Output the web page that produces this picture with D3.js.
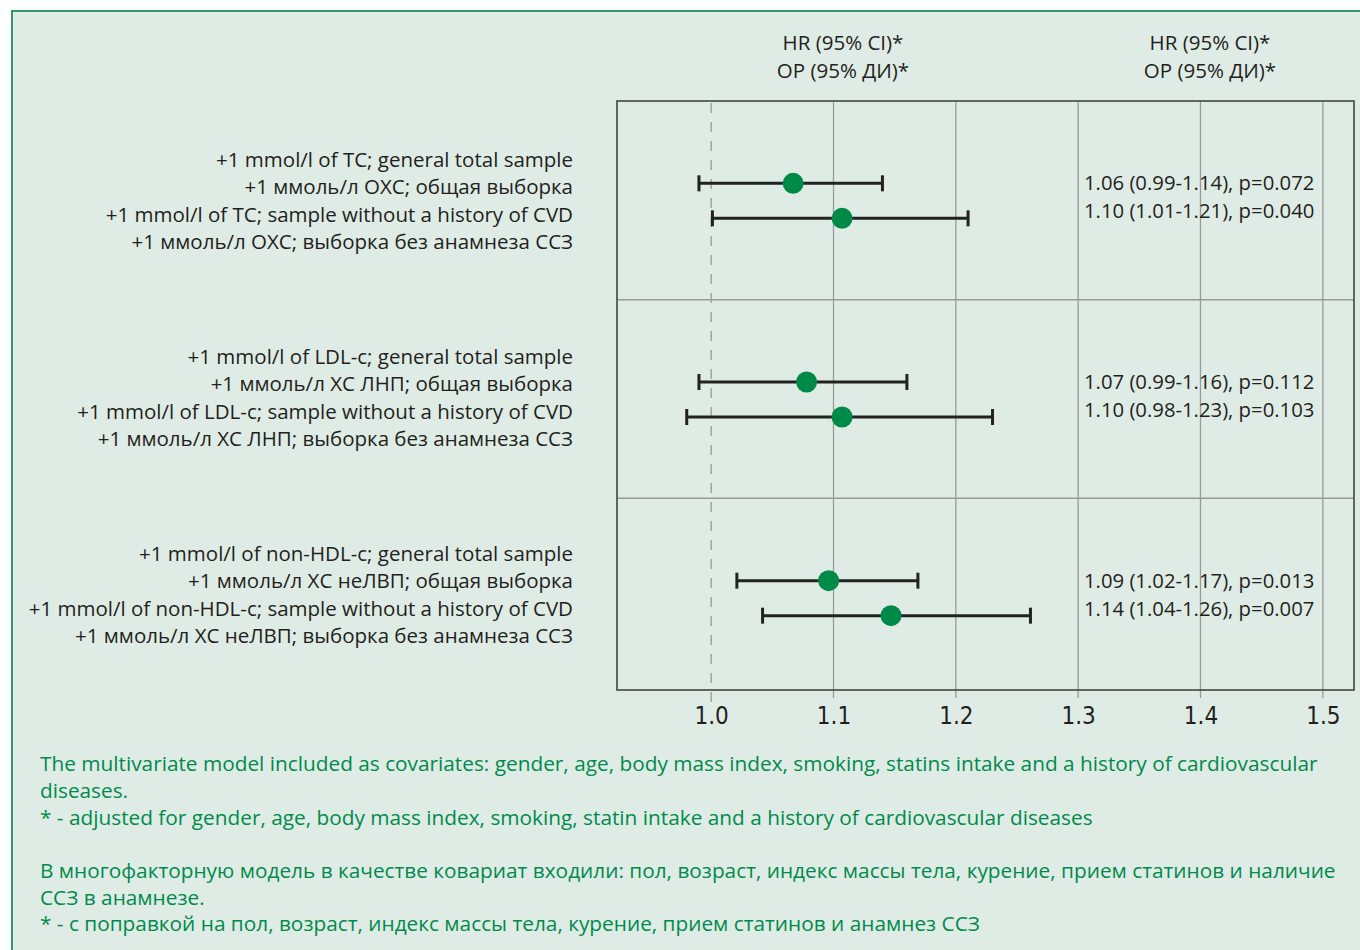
<!DOCTYPE html>
<html><head><meta charset="utf-8">
<script src="https://cdn.jsdelivr.net/npm/d3@7"></script>
<style>
html,body{margin:0;padding:0;background:#fff;}
svg{display:block;}
text{font-family:"Open Sans","Noto Sans",sans-serif;}
</style></head>
<body><svg id="c" width="1360" height="950"></svg>
<script>
const groups = ["TC","LDL","nonHDL"];
const rowLabels = [
  ["+1 mmol/l of TC; general total sample","+1 ммоль/л ОХС; общая выборка","+1 mmol/l of TC; sample without a history of CVD","+1 ммоль/л ОХС; выборка без анамнеза ССЗ"],
  ["+1 mmol/l of LDL-c; general total sample","+1 ммоль/л ХС ЛНП; общая выборка","+1 mmol/l of LDL-c; sample without a history of CVD","+1 ммоль/л ХС ЛНП; выборка без анамнеза ССЗ"],
  ["+1 mmol/l of non-HDL-c; general total sample","+1 ммоль/л ХС неЛВП; общая выборка","+1 mmol/l of non-HDL-c; sample without a history of CVD","+1 ммоль/л ХС неЛВП; выборка без анамнеза ССЗ"]
];
const rowGroup = ["TC","TC","LDL","LDL","nonHDL","nonHDL"];
const rowSub = [0,1,0,1,0,1];
const hr   = [1.067,1.107,1.078,1.107,1.096,1.147];
const ciLo = [0.990,1.001,0.990,0.980,1.021,1.042];
const ciHi = [1.140,1.210,1.160,1.230,1.169,1.261];
const resultText = [
  "1.06 (0.99-1.14), p=0.072","1.10 (1.01-1.21), p=0.040",
  "1.07 (0.99-1.16), p=0.112","1.10 (0.98-1.23), p=0.103",
  "1.09 (1.02-1.17), p=0.013","1.14 (1.04-1.26), p=0.007"
];
const ticks = [1.0,1.1,1.2,1.3,1.4,1.5];
const tickLabels = ["1.0","1.1","1.2","1.3","1.4","1.5"];
const headerLines = ["HR (95% CI)*","ОР (95% ДИ)*"];
const footLines = [
  "The multivariate model included as covariates: gender, age, body mass index, smoking, statins intake and a history of cardiovascular",
  "diseases.",
  "* - adjusted for gender, age, body mass index, smoking, statin intake and a history of cardiovascular diseases",
  "",
  "В многофакторную модель в качестве ковариат входили: пол, возраст, индекс массы тела, курение, прием статинов и наличие",
  "ССЗ в анамнезе.",
  "* - с поправкой на пол, возраст, индекс массы тела, курение, прием статинов и анамнез ССЗ"
];

const svg = d3.select("#c");
const txt = "#231f20", green = "#008a4c";
// outer panel
svg.append("rect").attr("x",12).attr("y",11).attr("width",1360).attr("height",960)
  .attr("fill","#dfece5").attr("stroke","#2e9c68").attr("stroke-width",2);

const L=617,R=1354,T=101,B=690;
const x = d3.scaleLinear().domain([0.923,1.5255]).range([L,R]);
const yG = d3.scaleBand().domain(groups).range([T,B+7]);
const rowOff = [-17,18];
const textOff = [-17,11];
const yRow = i => yG(rowGroup[i]) + yG.bandwidth()/2 + rowOff[rowSub[i]];

// grid
svg.append("g").selectAll("line").data(ticks.filter(t=>t!==1)).join("line")
  .attr("x1",d=>x(d)).attr("x2",d=>x(d)).attr("y1",T).attr("y2",B+8)
  .attr("stroke","#9a9a9a").attr("stroke-width",1.3);
svg.append("line").attr("x1",x(1)).attr("x2",x(1)).attr("y1",T+2).attr("y2",B+12)
  .attr("stroke","#9a9a9a").attr("stroke-width",1.3).attr("stroke-dasharray","10,9");
svg.append("g").selectAll("line").data(groups.slice(1)).join("line")
  .attr("x1",L).attr("x2",R).attr("y1",d=>yG(d)).attr("y2",d=>yG(d))
  .attr("stroke","#9a9a9a").attr("stroke-width",1.5);
svg.append("rect").attr("x",L).attr("y",T).attr("width",R-L).attr("height",B-T)
  .attr("fill","none").attr("stroke","#444").attr("stroke-width",1.6);

// axis labels
const ax = svg.append("g").attr("transform",`translate(0,${B})`)
  .call(d3.axisBottom(x).tickValues(ticks).tickFormat((d,i)=>tickLabels[i]).tickSize(0).tickPadding(17));
ax.select(".domain").remove();
ax.selectAll("text").attr("font-size",24).attr("fill",txt)
  .style("font-family","'Liberation Sans Narrow','DejaVu Sans Condensed',sans-serif");

// CI lines
const idx = d3.range(hr.length);
const ci = svg.append("g").attr("stroke","#222").attr("stroke-width",3);
ci.selectAll(".h").data(idx).join("line")
  .attr("x1",i=>x(ciLo[i])).attr("x2",i=>x(ciHi[i])).attr("y1",yRow).attr("y2",yRow);
ci.selectAll(".l").data(idx).join("line")
  .attr("x1",i=>x(ciLo[i])).attr("x2",i=>x(ciLo[i])).attr("y1",i=>yRow(i)-8).attr("y2",i=>yRow(i)+8);
ci.selectAll(".r").data(idx).join("line")
  .attr("x1",i=>x(ciHi[i])).attr("x2",i=>x(ciHi[i])).attr("y1",i=>yRow(i)-8).attr("y2",i=>yRow(i)+8);
svg.append("g").selectAll("circle").data(idx).join("circle")
  .attr("cx",i=>x(hr[i])).attr("cy",yRow).attr("r",10.5).attr("fill","#008a47");

// result text
svg.append("g").selectAll("text").data(idx).join("text")
  .attr("x",1084).attr("y",i=>yG(rowGroup[i]) + yG.bandwidth()/2 + textOff[rowSub[i]])
  .attr("dy","0.35em").attr("font-size",20.3).attr("fill",txt).text(i=>resultText[i]);

// headers
[843,1210].forEach(cx=>{
  svg.append("g").selectAll("text").data(headerLines).join("text")
    .attr("x",cx).attr("y",(d,i)=>43+i*28).attr("dy","0.35em").attr("text-anchor","middle")
    .attr("font-size",20.5).attr("fill",txt).text(d=>d);
});

// row labels
groups.forEach((g,gi)=>{
  const c = yG(g)+yG.bandwidth()/2;
  svg.append("g").selectAll("text").data(rowLabels[gi]).join("text")
    .attr("x",573).attr("y",(d,i)=>c-41-gi*1.5+i*27.5).attr("dy","0.35em").attr("text-anchor","end")
    .attr("font-size",20.5).attr("fill",txt).text(d=>d);
});

// footnotes
svg.append("g").selectAll("text").data(footLines).join("text")
  .attr("x",40).attr("y",(d,i)=>764+i*26.7).attr("dy","0.35em")
  .attr("font-size",20.8).attr("fill",green).text(d=>d);
</script></body></html>
